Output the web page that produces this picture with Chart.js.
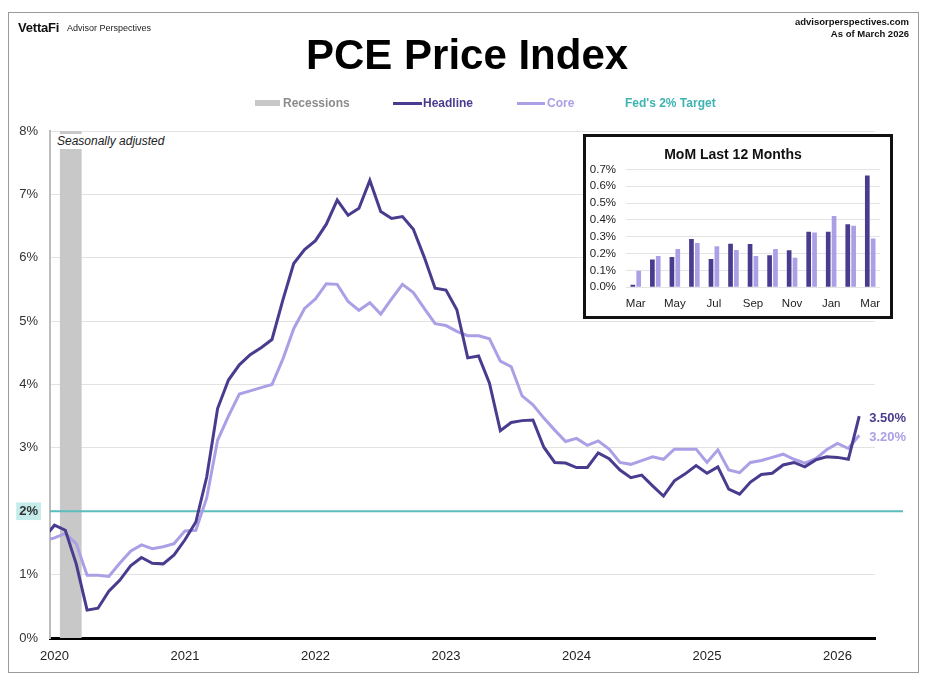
<!DOCTYPE html>
<html>
<head>
<meta charset="utf-8">
<script src="https://cdn.jsdelivr.net/npm/chart.js@4/dist/chart.umd.min.js"></script>
<style>
html,body{margin:0;padding:0;background:#fff;}
body{width:932px;height:683px;position:relative;overflow:hidden;font-family:"Liberation Sans",Arial,Helvetica,sans-serif;}
.abs{position:absolute;white-space:nowrap;line-height:1;}
#frame{position:absolute;left:8px;top:12px;width:911px;height:661px;border:1px solid #9a9a9a;box-sizing:border-box;}
#mainWrap{position:absolute;left:0;top:0;width:932px;height:683px;}
#inset{position:absolute;left:583px;top:134px;width:310px;height:185px;border:3px solid #111;box-sizing:border-box;background:#fff;}
#seas{position:absolute;left:55px;top:134px;height:15px;line-height:15px;padding:0 2px;background:#fff;font-style:italic;font-size:12px;color:#222;white-space:nowrap;}
.sw{position:absolute;}
</style>
</head>
<body>
<div id="frame"></div>
<div id="mainWrap"><canvas id="main" width="932" height="683"></canvas></div>

<div class="abs" style="left:18px;top:20.5px;font-size:13px;font-weight:bold;color:#111;letter-spacing:-0.2px;">VettaFi</div>
<div class="abs" style="left:67px;top:23.5px;font-size:9px;color:#222;">Advisor Perspectives</div>
<div class="abs" style="right:23px;top:17px;font-size:9.5px;font-weight:bold;color:#111;text-align:right;">advisorperspectives.com</div>
<div class="abs" style="right:23px;top:29px;font-size:9.5px;font-weight:bold;color:#111;text-align:right;">As of March 2026</div>
<div class="abs" style="left:306px;top:34px;font-size:42px;font-weight:bold;color:#000;">PCE Price Index</div>

<div class="sw" style="left:255px;top:100px;width:25px;height:6px;background:#c8c8c8;"></div>
<div class="abs" style="left:283px;top:97px;font-size:12px;font-weight:bold;color:#8c8c8c;">Recessions</div>
<div class="sw" style="left:393px;top:102px;width:29px;height:3px;background:#4a3b8f;"></div>
<div class="abs" style="left:423px;top:97px;font-size:12px;font-weight:bold;color:#4a3b8f;">Headline</div>
<div class="sw" style="left:517px;top:102px;width:28px;height:3px;background:#ab9fe6;"></div>
<div class="abs" style="left:547px;top:97px;font-size:12px;font-weight:bold;color:#ab9fe6;">Core</div>
<div class="abs" style="left:625px;top:97px;font-size:12px;font-weight:bold;color:#3db3b1;">Fed's 2% Target</div>

<div id="seas">Seasonally adjusted</div>

<div id="inset"><canvas id="mom" width="304" height="179"></canvas></div>

<script>
// ---------- data ----------
const firstMonth = '2019-12';
const headline = [1.57,
  1.78,1.70,1.17,0.44,0.47,0.74,0.91,1.14,1.27,1.18,1.17,1.31,
  1.55,1.83,2.54,3.62,4.07,4.31,4.47,4.58,4.71,5.33,5.91,6.13,
  6.27,6.53,6.91,6.67,6.78,7.22,6.73,6.62,6.65,6.45,6.01,5.52,
  5.49,5.18,4.42,4.45,4.02,3.27,3.40,3.43,3.44,3.01,2.77,2.76,
  2.69,2.69,2.92,2.83,2.65,2.53,2.57,2.40,2.24,2.48,2.59,2.72,
  2.60,2.70,2.35,2.27,2.46,2.58,2.60,2.73,2.77,2.70,2.81,2.86,
  2.85,2.82,3.50];
const core = [1.53,
  1.58,1.65,1.49,0.99,0.99,0.97,1.18,1.37,1.47,1.41,1.44,1.49,
  1.69,1.70,2.21,3.12,3.50,3.85,3.90,3.95,4.00,4.40,4.88,5.20,
  5.35,5.59,5.58,5.31,5.17,5.29,5.11,5.35,5.58,5.45,5.20,4.96,
  4.93,4.84,4.77,4.77,4.72,4.37,4.28,3.82,3.68,3.47,3.28,3.10,
  3.15,3.04,3.11,2.98,2.77,2.74,2.80,2.86,2.82,2.98,2.98,2.98,
  2.77,2.97,2.65,2.61,2.77,2.80,2.85,2.90,2.82,2.76,2.83,2.97,
  3.07,2.99,3.20];
const yearLabels = ['2020','2021','2022','2023','2024','2025','2026'];
const yTickValues = [0,1,2,3,4,5,6,7,8];
const fedTarget = 2;
const recessions = [['2020-02','2020-03']];

const momMonths = ['Mar','Apr','May','Jun','Jul','Aug','Sep','Oct','Nov','Dec','Jan','Feb','Mar'];
const momHeadline = [0.015,0.165,0.18,0.287,0.168,0.259,0.257,0.19,0.22,0.33,0.33,0.374,0.664];
const momCore = [0.099,0.186,0.227,0.263,0.243,0.221,0.186,0.227,0.176,0.326,0.423,0.366,0.29];

// ---------- styles ----------
const HEAD = '#4a3b8f', CORE = '#ab9fe6', TEAL = '#5cbdbd', BAND = '#c8c8c8';
const FONT = '"Liberation Sans", Arial, Helvetica, sans-serif';

function monthIdx(s){ const [y,m] = s.split('-').map(Number); return (y-2020)*12 + (m-1); }
const start = monthIdx(firstMonth);
const toPts = arr => arr.map((v,i)=>({x:start+i, y:v}));

const bandPlugin = {
  id:'bands',
  beforeDatasetsDraw(chart){
    const {ctx, chartArea:a, scales:{x,y}} = chart;
    ctx.save();
    ctx.fillStyle = BAND;
    recessions.forEach(([s,e])=>{
      const x0 = x.getPixelForValue(monthIdx(s)-0.5), x1 = x.getPixelForValue(monthIdx(e)+0.5);
      ctx.fillRect(x0, a.top, x1-x0, a.bottom-a.top);
    });
    const ty = y.getPixelForValue(fedTarget);
    ctx.strokeStyle = TEAL; ctx.lineWidth = 2;
    ctx.beginPath(); ctx.moveTo(a.left, ty); ctx.lineTo(a.right+28, ty); ctx.stroke();
    ctx.restore();
  }
};
const endLabelPlugin = {
  id:'endLabels',
  afterDatasetsDraw(chart){
    const {ctx, scales:{x,y}} = chart;
    ctx.save();
    ctx.font = 'bold 13px ' + FONT;
    ctx.textAlign = 'left'; ctx.textBaseline = 'middle';
    chart.data.datasets.forEach(ds=>{
      const p = ds.data[ds.data.length-1];
      ctx.fillStyle = ds.borderColor;
      ctx.fillText(p.y.toFixed(2)+'%', x.getPixelForValue(p.x)+10, y.getPixelForValue(p.y)+1.8);
    });
    ctx.restore();
  }
};

new Chart(document.getElementById('main'), {
  type:'line',
  data:{ datasets:[
    {label:'Headline', data:toPts(headline), borderColor:HEAD, borderWidth:3, pointRadius:0, tension:0, borderJoinStyle:'miter'},
    {label:'Core', data:toPts(core), borderColor:CORE, borderWidth:3, pointRadius:0, tension:0, borderJoinStyle:'miter'}
  ]},
  options:{
    responsive:false, animation:false, devicePixelRatio:1,
    layout:{padding:{left:0, right:57, top:131, bottom:10}},
    plugins:{legend:{display:false}, tooltip:{enabled:false}},
    scales:{
      x:{type:'linear', min:-0.41, max:75.45,
        afterBuildTicks(s){ s.ticks = yearLabels.map((l,k)=>({value:k*12})); },
        afterFit(s){ s.height = 35; },
        ticks:{autoSkip:false, maxRotation:0, padding:3, color:'#222', font:{family:FONT, size:13},
          callback:(v)=> yearLabels[Math.round(v/12)]},
        grid:{display:false},
        border:{display:true, color:'#000', width:3}
      },
      y:{min:0, max:8,
        afterBuildTicks(s){ s.ticks = yTickValues.map(v=>({value:v})); },
        afterFit(s){ s.width = 50; },
        ticks:{padding:12, color:'#333',
          font:(c)=>({family:FONT, size:13, weight: (c.tick && c.tick.value===fedTarget) ? 'bold':'normal'}),
          showLabelBackdrop:(c)=> !!(c.tick && c.tick.value===fedTarget),
          backdropColor:'#c6ebeb', backdropPadding:{top:1,bottom:1,left:3,right:3},
          callback:(v)=> v+'%'},
        grid:{color:'#e2e2e2', lineWidth:1, drawTicks:false},
        border:{display:true, color:'#bdbdbd', width:2}
      }
    }
  },
  plugins:[bandPlugin, endLabelPlugin]
});

new Chart(document.getElementById('mom'), {
  type:'bar',
  data:{ labels:momMonths, datasets:[
    {label:'Headline', data:momHeadline, backgroundColor:HEAD, categoryPercentage:0.6, barPercentage:0.8},
    {label:'Core', data:momCore, backgroundColor:CORE, categoryPercentage:0.6, barPercentage:0.8}
  ]},
  options:{
    responsive:false, animation:false, devicePixelRatio:1,
    layout:{padding:{left:0, right:10, top:0, bottom:0}},
    plugins:{legend:{display:false}, tooltip:{enabled:false},
      title:{display:true, text:'MoM Last 12 Months', color:'#111', font:{family:FONT, size:14, weight:'bold'}, padding:{top:9.6, bottom:6}}},
    scales:{
      x:{grid:{display:false}, border:{display:false},
        afterFit(s){ s.height = 28.7; },
        ticks:{autoSkip:false, maxRotation:0, padding:2, color:'#222', font:{family:FONT, size:11.5},
          callback:(v,i)=> i%2===0 ? momMonths[i] : ''}},
      y:{min:0, max:0.7,
        afterFit(s){ s.width = 40; },
        ticks:{stepSize:0.1, padding:10, color:'#222', font:{family:FONT, size:11.5}, callback:(v)=> v.toFixed(1)+'%'},
        grid:{color:'#e4e4e4', drawTicks:false}, border:{display:false}}
    }
  }
});
</script>
</body>
</html>
